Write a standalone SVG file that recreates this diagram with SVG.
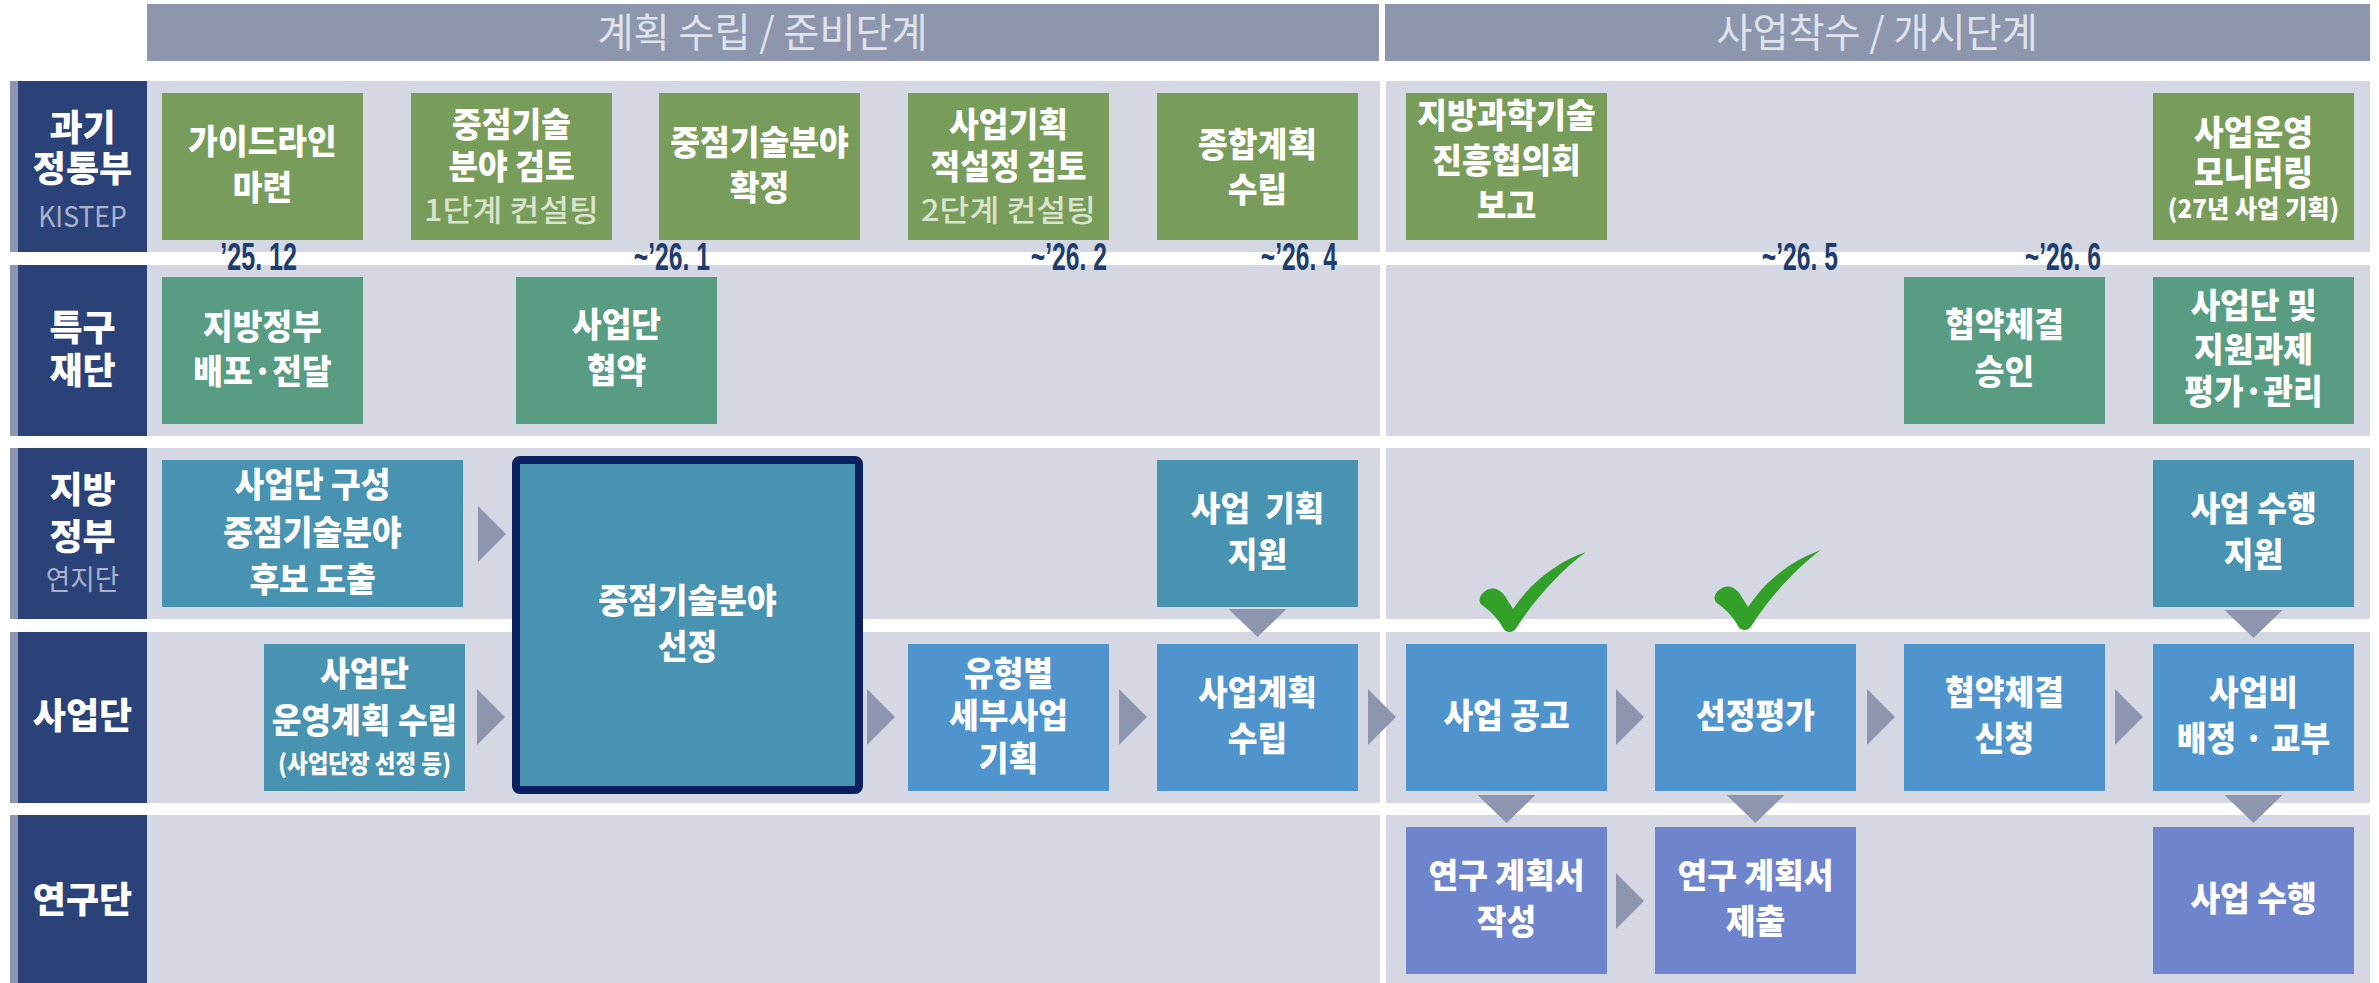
<svg xmlns="http://www.w3.org/2000/svg" width="2379" height="983" viewBox="0 0 2379 983">
<style>
.bg{fill:#ffffff}
.band{fill:#d5d8e2}
.lab{fill:#2b4279}
.strip{fill:#8e95ae}
.hdr{fill:#8e96ae}
.g1{fill:#789c59}
.g2{fill:#589c82}
.t3{fill:#4893b1}
.b4{fill:#4f94cd}
.p5{fill:#6e84cc}
.arr{fill:#8e95ae}
.chk{fill:#33a02a}
.big{fill:#4893b1;stroke:#0b205e;stroke-width:8}
.tx{font-family:"Noto Sans CJK KR","Noto Sans",sans-serif;font-weight:900;font-size:34px;fill:#ffffff;text-anchor:middle}
.lt{font-family:"Noto Sans CJK KR","Noto Sans",sans-serif;font-weight:900;font-size:36px;fill:#ffffff;text-anchor:middle}
.lg{font-family:"Noto Sans CJK KR","Noto Sans",sans-serif;font-weight:400;font-size:28px;fill:#a9b2cd;text-anchor:middle}
.sub{font-family:"Noto Sans CJK KR","Noto Sans",sans-serif;font-size:30px;font-weight:500;fill:#dae3cd;text-anchor:middle}
.sm{font-size:25px}
.hd{font-family:"Noto Sans CJK KR","Noto Sans",sans-serif;font-weight:400;font-size:40px;fill:#dfe2ea;text-anchor:middle}
.dt{font-family:"Liberation Sans",Arial,sans-serif;font-weight:700;font-size:38px;fill:#1f3e6d;text-anchor:end}
</style>
<defs>
<path id="rarr" d="M0,0 L28,28 L0,56 Z"/>
<path id="darr" d="M0,0 L58,0 L29,28 Z"/>
<path id="check" d="M5,40 C12,34 20,36 26,44 L34,57 C52,30 78,10 107,0 C82,18 55,48 38,75 C35,81 27,82 24,76 C18,65 10,58 3,53 C-1,50 0,44 5,40 Z"/>
</defs>
<rect class="bg" x="0" y="0" width="2379" height="983"/>

<g id="headers">
<rect class="hdr" x="147" y="4" width="1232" height="57"/>
<rect class="hdr" x="1385" y="4" width="985" height="57"/>
<text class="hd" transform="translate(762.5,47) scale(0.98,1)" x="0" y="0">계획 수립 / 준비단계</text>
<text class="hd" transform="translate(1877,47) scale(0.98,1)" x="0" y="0">사업착수 / 개시단계</text>
</g>

<g id="lanes">
<rect class="band" x="147" y="81" width="1233" height="171"/>
<rect class="band" x="1386" y="81" width="984" height="171"/>
<rect class="band" x="147" y="265" width="1233" height="171"/>
<rect class="band" x="1386" y="265" width="984" height="171"/>
<rect class="band" x="147" y="448" width="1233" height="171"/>
<rect class="band" x="1386" y="448" width="984" height="171"/>
<rect class="band" x="147" y="632" width="1233" height="171"/>
<rect class="band" x="1386" y="632" width="984" height="171"/>
<rect class="band" x="147" y="815" width="1233" height="168"/>
<rect class="band" x="1386" y="815" width="984" height="168"/>

<g id="label-r1">
<rect class="strip" x="10" y="81" width="8" height="171"/>
<rect class="lab" x="18" y="81" width="129" height="171"/>
<text class="lt" transform="translate(82.5,0)"><tspan x="0" y="141">과기</tspan><tspan x="0" y="182">정통부</tspan></text>
<text class="lg" transform="translate(82.5,0) scale(0.95,1)" x="0" y="227">KISTEP</text>
</g>
<g id="label-r2">
<rect class="strip" x="10" y="265" width="8" height="171"/>
<rect class="lab" x="18" y="265" width="129" height="171"/>
<text class="lt" transform="translate(82.5,0)"><tspan x="0" y="341">특구</tspan><tspan x="0" y="384">재단</tspan></text>
</g>
<g id="label-r3">
<rect class="strip" x="10" y="448" width="8" height="171"/>
<rect class="lab" x="18" y="448" width="129" height="171"/>
<text class="lt" transform="translate(82.5,0)"><tspan x="0" y="503">지방</tspan><tspan x="0" y="550">정부</tspan></text>
<text class="lg" transform="translate(82.5,0) scale(0.95,1)" x="0" y="590">연지단</text>
</g>
<g id="label-r4">
<rect class="strip" x="10" y="632" width="8" height="171"/>
<rect class="lab" x="18" y="632" width="129" height="171"/>
<text class="lt" transform="translate(82.5,0)" x="0" y="729">사업단</text>
</g>
<g id="label-r5">
<rect class="strip" x="10" y="815" width="8" height="168"/>
<rect class="lab" x="18" y="815" width="129" height="168"/>
<text class="lt" transform="translate(82.5,0)" x="0" y="913">연구단</text>
</g>
</g>

<g id="dates">
<text class="dt" transform="translate(297,270) scale(0.66,1)" x="0" y="0">’25. 12</text>
<text class="dt" transform="translate(710,270) scale(0.65,1)" x="0" y="0">~’26. 1</text>
<text class="dt" transform="translate(1107,270) scale(0.65,1)" x="0" y="0">~’26. 2</text>
<text class="dt" transform="translate(1337,270) scale(0.65,1)" x="0" y="0">~’26. 4</text>
<text class="dt" transform="translate(1838,270) scale(0.65,1)" x="0" y="0">~’26. 5</text>
<text class="dt" transform="translate(2101,270) scale(0.65,1)" x="0" y="0">~’26. 6</text>
</g>

<!-- Row 1 -->
<g id="n-guide">
<rect class="g1" x="162" y="93" width="201" height="147"/>
<text class="tx" transform="translate(262.5,0) scale(0.95,1)"><tspan x="0" y="154.5">가이드라인</tspan><tspan x="0" y="200.5">마련</tspan></text>
</g>
<g id="n-review1">
<rect class="g1" x="411" y="93" width="201" height="147"/>
<text class="tx" transform="translate(511.5,0) scale(0.95,1)"><tspan x="0" y="137.5">중점기술</tspan><tspan x="0" y="179.5">분야 검토</tspan></text>
<text class="sub" transform="translate(511.5,0) scale(1.08,1)" x="0" y="221">1단계 컨설팅</text>
</g>
<g id="n-confirm">
<rect class="g1" x="659" y="93" width="201" height="147"/>
<text class="tx" transform="translate(759.5,0) scale(0.95,1)"><tspan x="0" y="155.5">중점기술분야</tspan><tspan x="0" y="200.5">확정</tspan></text>
</g>
<g id="n-review2">
<rect class="g1" x="908" y="93" width="201" height="147"/>
<text class="tx" transform="translate(1008.5,0) scale(0.95,1)"><tspan x="0" y="137.5">사업기획</tspan><tspan x="0" y="179.5">적설정 검토</tspan></text>
<text class="sub" transform="translate(1008.5,0) scale(1.08,1)" x="0" y="221">2단계 컨설팅</text>
</g>
<g id="n-plan">
<rect class="g1" x="1157" y="93" width="201" height="147"/>
<text class="tx" transform="translate(1257.5,0) scale(0.95,1)"><tspan x="0" y="157.5">종합계획</tspan><tspan x="0" y="202.5">수립</tspan></text>
</g>
<g id="n-report">
<rect class="g1" x="1406" y="93" width="201" height="147"/>
<text class="tx" transform="translate(1506.5,0) scale(0.95,1)"><tspan x="0" y="128.5">지방과학기술</tspan><tspan x="0" y="173.5">진흥협의회</tspan><tspan x="0" y="218.5">보고</tspan></text>
</g>
<g id="n-monitor">
<rect class="g1" x="2153" y="93" width="201" height="147"/>
<text class="tx" transform="translate(2253.5,0) scale(0.95,1)"><tspan x="0" y="145.5">사업운영</tspan><tspan x="0" y="185.5">모니터링</tspan></text>
<text class="tx sm" transform="translate(2253.5,0) scale(0.97,1)" x="0" y="218.5">(27년 사업 기획)</text>
</g>

<!-- Row 2 -->
<g id="n-distribute">
<rect class="g2" x="162" y="277" width="201" height="147"/>
<text class="tx" transform="translate(262.5,0) scale(0.95,1)"><tspan x="0" y="339.5">지방정부</tspan><tspan x="0" y="384.5">배포·전달</tspan></text>
</g>
<g id="n-agreement">
<rect class="g2" x="516" y="277" width="201" height="147"/>
<text class="tx" transform="translate(616.5,0) scale(0.95,1)"><tspan x="0" y="337.5">사업단</tspan><tspan x="0" y="383.5">협약</tspan></text>
</g>
<g id="n-approve">
<rect class="g2" x="1904" y="277" width="201" height="147"/>
<text class="tx" transform="translate(2004.5,0) scale(0.95,1)"><tspan x="0" y="337.5">협약체결</tspan><tspan x="0" y="384.5">승인</tspan></text>
</g>
<g id="n-evaluate">
<rect class="g2" x="2153" y="277" width="201" height="147"/>
<text class="tx" transform="translate(2253.5,0) scale(0.95,1)"><tspan x="0" y="318.5">사업단 및</tspan><tspan x="0" y="362.5">지원과제</tspan><tspan x="0" y="404.5">평가·관리</tspan></text>
</g>

<!-- Row 3 -->
<g id="n-compose">
<rect class="t3" x="162" y="460" width="301" height="147"/>
<text class="tx" transform="translate(312.5,0) scale(0.95,1)"><tspan x="0" y="497.5">사업단 구성</tspan><tspan x="0" y="545.5">중점기술분야</tspan><tspan x="0" y="592.5">후보 도출</tspan></text>
</g>
<g id="n-support-plan">
<rect class="t3" x="1157" y="460" width="201" height="147"/>
<text class="tx" transform="translate(1257.5,0) scale(0.95,1)" xml:space="preserve"><tspan x="0" y="521.5">사업  기획</tspan><tspan x="0" y="567.5">지원</tspan></text>
</g>
<g id="n-support-exec">
<rect class="t3" x="2153" y="460" width="201" height="147"/>
<text class="tx" transform="translate(2253.5,0) scale(0.95,1)"><tspan x="0" y="521.5">사업 수행</tspan><tspan x="0" y="567.5">지원</tspan></text>
</g>

<!-- Row 4 -->
<g id="n-opplan">
<rect class="t3" x="264" y="644" width="201" height="147"/>
<text class="tx" transform="translate(364.5,0) scale(0.95,1)"><tspan x="0" y="686.5">사업단</tspan><tspan x="0" y="733.5">운영계획 수립</tspan></text>
<text class="tx sm" transform="translate(364.5,0) scale(0.9,1)" x="0" y="773.5">(사업단장 선정 등)</text>
</g>
<g id="n-select">
<rect class="big" x="516" y="460" width="343" height="330" rx="4"/>
<text class="tx" transform="translate(687.5,0) scale(0.95,1)"><tspan x="0" y="613.5">중점기술분야</tspan><tspan x="0" y="659.5">선정</tspan></text>
</g>
<g id="n-detail">
<rect class="b4" x="908" y="644" width="201" height="147"/>
<text class="tx" transform="translate(1008.5,0) scale(0.95,1)"><tspan x="0" y="686.5">유형별</tspan><tspan x="0" y="728.5">세부사업</tspan><tspan x="0" y="770.5">기획</tspan></text>
</g>
<g id="n-bizplan">
<rect class="b4" x="1157" y="644" width="201" height="147"/>
<text class="tx" transform="translate(1257.5,0) scale(0.95,1)"><tspan x="0" y="705.5">사업계획</tspan><tspan x="0" y="751.5">수립</tspan></text>
</g>
<g id="n-notice">
<rect class="b4" x="1406" y="644" width="201" height="147"/>
<text class="tx" transform="translate(1506.5,0) scale(0.95,1)" x="0" y="728.5">사업 공고</text>
</g>
<g id="n-eval">
<rect class="b4" x="1655" y="644" width="201" height="147"/>
<text class="tx" transform="translate(1755.5,0) scale(0.95,1)" x="0" y="728.5">선정평가</text>
</g>
<g id="n-apply">
<rect class="b4" x="1904" y="644" width="201" height="147"/>
<text class="tx" transform="translate(2004.5,0) scale(0.95,1)"><tspan x="0" y="705.5">협약체결</tspan><tspan x="0" y="751.5">신청</tspan></text>
</g>
<g id="n-fund">
<rect class="b4" x="2153" y="644" width="201" height="147"/>
<text class="tx" transform="translate(2253.5,0) scale(0.95,1)"><tspan x="0" y="705.5">사업비</tspan><tspan x="0" y="751.5">배정 · 교부</tspan></text>
</g>

<!-- Row 5 -->
<g id="n-write">
<rect class="p5" x="1406" y="827" width="201" height="147"/>
<text class="tx" transform="translate(1506.5,0) scale(0.95,1)"><tspan x="0" y="888.5">연구 계획서</tspan><tspan x="0" y="934.5">작성</tspan></text>
</g>
<g id="n-submit">
<rect class="p5" x="1655" y="827" width="201" height="147"/>
<text class="tx" transform="translate(1755.5,0) scale(0.95,1)"><tspan x="0" y="888.5">연구 계획서</tspan><tspan x="0" y="934.5">제출</tspan></text>
</g>
<g id="n-exec">
<rect class="p5" x="2153" y="827" width="201" height="147"/>
<text class="tx" transform="translate(2253.5,0) scale(0.95,1)" x="0" y="911.5">사업 수행</text>
</g>

<g id="connectors">
<use href="#rarr" class="arr" x="478" y="506"/>
<use href="#rarr" class="arr" x="477" y="689"/>
<use href="#rarr" class="arr" x="867" y="689"/>
<use href="#rarr" class="arr" x="1119" y="689"/>
<use href="#rarr" class="arr" x="1368" y="689"/>
<use href="#rarr" class="arr" x="1616" y="689"/>
<use href="#rarr" class="arr" x="1867" y="689"/>
<use href="#rarr" class="arr" x="2115" y="689"/>
<use href="#rarr" class="arr" x="1616" y="873"/>
<use href="#darr" class="arr" x="1228.5" y="609"/>
<use href="#darr" class="arr" x="2224.5" y="610"/>
<use href="#darr" class="arr" x="1477.5" y="795"/>
<use href="#darr" class="arr" x="1726.5" y="795"/>
<use href="#darr" class="arr" x="2224.5" y="795"/>
</g>

<g id="checkmarks">
<use href="#check" class="chk" x="1479" y="552"/>
<use href="#check" class="chk" x="1714" y="550"/>
</g>
</svg>
